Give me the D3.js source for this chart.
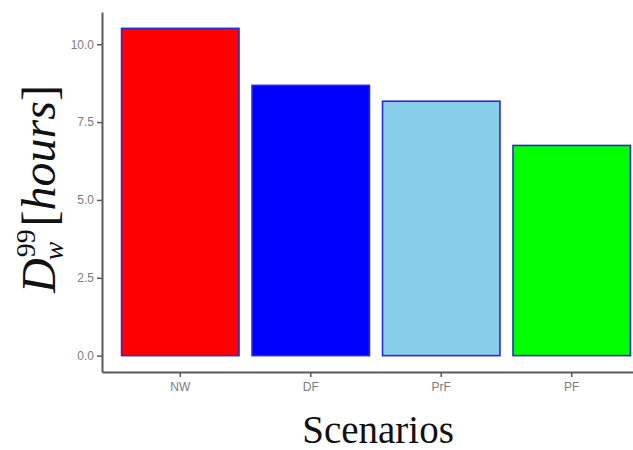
<!DOCTYPE html>
<html>
<head>
<meta charset="utf-8">
<script src="https://cdn.jsdelivr.net/npm/d3@7"></script>
<style>
body { margin: 0; background: #fff; }
</style>
</head>
<body>
<svg id="chart"></svg>
<script>
// data
var scenarios = ["NW", "DF", "PrF", "PF"];
var hours = [10.51, 8.68, 8.17, 6.75];
var barColors = ["#ff0000", "#0000ff", "#87ceeb", "#00ff00"];
var yTicks = [0, 2.5, 5, 7.5, 10];

var dimensions = {
    width: 633,
    height: 450,
    margin: { top: 12, bottom: 78, left: 102, right: -17 }
}

var svg = d3.select("#chart")
    .attr("width", dimensions.width)
    .attr("height", dimensions.height);

var data = scenarios.map((s, i) => ({ name: s, value: hours[i], color: barColors[i] }));

var bottom = dimensions.height - dimensions.margin.bottom;

// ggplot style: 5% expansion on y, 0.6 units on discrete x
var ymax = d3.max(hours);
var yScale = d3.scaleLinear()
    .domain([-ymax * 0.05, ymax * 1.05])
    .range([bottom, dimensions.margin.top]);

var xScale = d3.scaleBand()
    .domain(scenarios)
    .range([dimensions.margin.left, dimensions.width - dimensions.margin.right])
    .paddingInner(0.1)
    .paddingOuter(0.15);

svg.selectAll("rect.bar")
    .data(data)
    .enter()
    .append("rect")
    .attr("class", "bar")
    .attr("x", d => xScale(d.name))
    .attr("y", d => yScale(d.value))
    .attr("width", xScale.bandwidth())
    .attr("height", d => yScale(0) - yScale(d.value))
    .attr("fill", d => d.color)
    .attr("stroke", "#2b2bc8")
    .attr("stroke-width", 1.6);

var yAxis = svg.append("g")
    .attr("transform", `translate(${dimensions.margin.left},0)`)
    .call(d3.axisLeft(yScale).tickValues(yTicks).tickFormat(d3.format(".1f"))
        .tickSize(5).tickSizeOuter(0).tickPadding(3));

var xAxis = svg.append("g")
    .attr("transform", `translate(0,${bottom})`)
    .call(d3.axisBottom(xScale).tickSize(5).tickSizeOuter(0).tickPadding(5));

[yAxis, xAxis].forEach(function(ax) {
    ax.select(".domain").attr("stroke", "#5a5a5a").attr("stroke-width", 2);
    ax.selectAll(".tick line").attr("stroke", "#5a5a5a").attr("stroke-width", 1.5);
    ax.selectAll(".tick text")
        .attr("fill", "#7c7c7c")
        .style("font-family", "Liberation Sans, Arial, sans-serif")
        .style("font-size", "12px");
});

// x title
svg.append("text")
    .attr("x", 378)
    .attr("y", 443)
    .attr("text-anchor", "middle")
    .style("font-family", "Liberation Serif, serif")
    .style("font-size", "39px")
    .attr("fill", "#111")
    .text("Scenarios");

// y title: D_w^99 [hours]
var fs = 48;
var ylab = svg.append("g")
    .style("font-family", "Liberation Serif, serif")
    .attr("fill", "#111");

var tD = ylab.append("text").style("font-size", fs + "px").style("font-style", "italic").text("D");
var wD = tD.node().getComputedTextLength();
var tSup = ylab.append("text").attr("x", wD + 1).attr("y", -fs * 0.42)
    .style("font-size", (fs * 0.58) + "px").text("99");
var tSub = ylab.append("text").attr("x", wD - 2).attr("y", fs * 0.16)
    .style("font-size", (fs * 0.58) + "px").style("font-style", "italic").text("w");
var wScript = Math.max(tSup.node().getComputedTextLength() + 1, tSub.node().getComputedTextLength() - 2);
var tRest = ylab.append("text").attr("x", wD + wScript + 3).style("font-size", fs + "px");
tRest.append("tspan").text("[");
tRest.append("tspan").style("font-style", "italic").text("hours");
tRest.append("tspan").text("]");
var total = wD + wScript + 3 + tRest.node().getComputedTextLength();

ylab.attr("transform", `translate(55,${189 + total / 2}) rotate(-90)`);
</script>
</body>
</html>
